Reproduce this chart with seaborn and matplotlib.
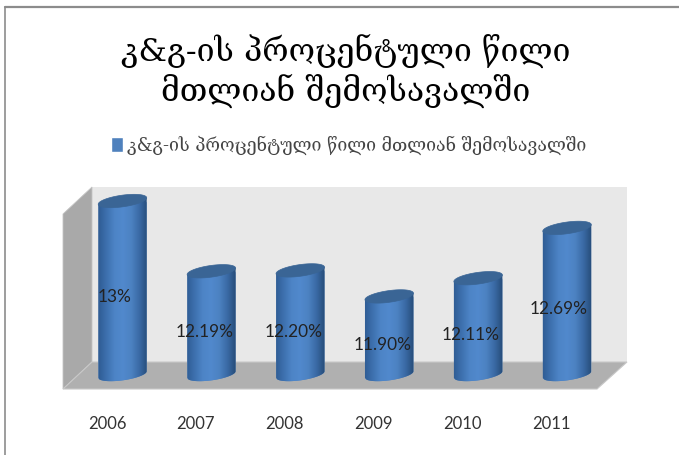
import numpy as np
import pandas as pd
import matplotlib
matplotlib.use("Agg")
import matplotlib.pyplot as plt
from matplotlib.colors import LinearSegmentedColormap
from matplotlib.patches import Polygon
from matplotlib.transforms import ScaledTranslation
from matplotlib.lines import Line2D
import seaborn as sns

years = ["2006", "2007", "2008", "2009", "2010", "2011"]
shares = [13.0, 12.19, 12.20, 11.90, 12.11, 12.69]
value_labels = ["13%", "12.19%", "12.20%", "11.90%", "12.11%", "12.69%"]
title_text = "კ&გ-ის პროცენტული წილი\nმთლიან შემოსავალში"
legend_text = "კ&გ-ის პროცენტული წილი მთლიან შემოსავალში"

W, H = 679, 455
# label placement in pixels relative to the bar centre / value-axis position
label_dx = [-8, -7, -7, -6.5, -7.5, -8]
label_y = [11.89, 11.49, 11.49, 11.34, 11.45, 11.75]

sns.set_theme(style="white")
plt.rcParams["font.family"] = ["Lato", "DejaVu Sans"]

fig = plt.figure(figsize=(W / 100, H / 100), dpi=100, facecolor="white")


def fx(px):
    return px / W


def fy(py):
    return 1 - py / H


def fig_poly(points, **kw):
    fig.patches.append(Polygon([(fx(x), fy(y)) for x, y in points], closed=True,
                               transform=fig.transFigure, figure=fig, zorder=-1, **kw))


# picture frame
fig.add_artist(Line2D([fx(5), fx(5)], [fy(7), fy(455)], color="#8c8c8c", lw=1.2))
fig.add_artist(Line2D([fx(5), fx(679)], [fy(7), fy(7)], color="#8c8c8c", lw=1.6))

# 3-D box: back wall, side wall, floor
fig_poly([(92, 187), (627, 187), (627, 362), (92, 362)], facecolor="#e8e8e8", edgecolor="none")
fig_poly([(92, 187), (63, 214), (63, 389), (92, 362)], facecolor="#a9a9a9", edgecolor="#c4c4c4", lw=0.6)
fig_poly([(92, 362), (627, 362), (597, 389), (63, 389)], facecolor="#b0b0b0", edgecolor="#c8c8c8", lw=0.8)

# axes
ax_left, ax_right, ax_top, ax_bottom = 78, 611.5, 187, 395
px_per_x = 89.0
px_per_y = 86.75
base = 11.0
ylim = (base - (ax_bottom - 374.5) / px_per_y, base + (374.5 - ax_top) / px_per_y)
ax = fig.add_axes([fx(ax_left), fy(ax_bottom), (ax_right - ax_left) / W, (ax_bottom - ax_top) / H])
ax.patch.set_visible(False)

df = pd.DataFrame({"year": years, "share": shares})
sns.barplot(data=df, x="year", y="share", color="#4f81bd", saturation=1, width=0.55,
            ax=ax, label=legend_text, errorbar=None)
ax.set_xlim(-0.5, 5.5)
ax.set_ylim(*ylim)
ax.set_xlabel("")
ax.set_ylabel("")
ax.set_yticks([])
sns.despine(ax=ax, left=True, bottom=True)
ax.tick_params(axis="x", length=0, pad=15, labelsize=12, labelcolor="#333333")
for lab in ax.get_xticklabels():
    lab.set_transform(lab.get_transform() + ScaledTranslation(-15.5 / 100, 0, fig.dpi_scale_trans))

grad = LinearSegmentedColormap.from_list(
    "cyl", ["#2e5b92", "#3d70ae", "#4d84c6", "#5189cd", "#4c82c2", "#3a6aa5", "#264c78"])
grad_img = np.linspace(0, 1, 128)[None, :]
TILT = np.deg2rad(8)
A, B = 24.5, 5.8


def ellipse(cx, cy, t):
    xp = A * np.cos(t) * np.cos(TILT) - B * np.sin(t) * np.sin(TILT)
    yp = A * np.cos(t) * np.sin(TILT) + B * np.sin(t) * np.cos(TILT)
    return np.column_stack([cx + xp / px_per_x, cy + yp / px_per_y])


bars = list(ax.containers[0])
for i, bar in enumerate(bars):
    cx = bar.get_x() + bar.get_width() / 2
    top = bar.get_height()
    lower = ellipse(cx, base, np.linspace(np.pi, 2 * np.pi, 60))
    upper = ellipse(cx, top, np.array([0.0, np.pi]))
    body = Polygon(np.vstack([lower, upper]), closed=True, transform=ax.transData,
                   facecolor="none", edgecolor="none")
    ax.add_patch(body)
    bar.set_clip_path(body)
    im = ax.imshow(grad_img, cmap=grad, aspect="auto", interpolation="bilinear",
                   extent=(cx - 0.28, cx + 0.28, ylim[0], ylim[1]), zorder=3)
    im.set_clip_path(body)
    cap = Polygon(ellipse(cx, top, np.linspace(0, 2 * np.pi, 80)), closed=True,
                  facecolor="#3a6595", edgecolor="#3a6595", lw=0.5, zorder=4)
    ax.add_patch(cap)
    ax.annotate(value_labels[i], xy=(cx, label_y[i]), xytext=(label_dx[i] * 0.72, 0),
                textcoords="offset points", ha="center", va="center",
                fontsize=12.4, color="#222222", zorder=6, annotation_clip=False)
ax.set_xlim(-0.5, 5.5)
ax.set_ylim(*ylim)

# title
fig.text(fx(346), fy(71), title_text, ha="center", va="center", fontsize=23,
         family=["DejaVu Serif", "DejaVu Sans"], color="black", linespacing=1.2)

# legend: moved from the axes to the figure, above the plot box
handles, labels = ax.get_legend_handles_labels()
if ax.get_legend() is not None:
    ax.get_legend().remove()
leg = fig.legend(handles, labels, loc="center", bbox_to_anchor=(fx(349), fy(145)), frameon=False,
                 fontsize=12.8, handlelength=0.65, handleheight=0.9, handletextpad=0.25,
                 labelcolor="#444444")
for t in leg.get_texts():
    t.set_family(["DejaVu Serif", "DejaVu Sans"])

fig.savefig("out.png", dpi=100, facecolor="white")
